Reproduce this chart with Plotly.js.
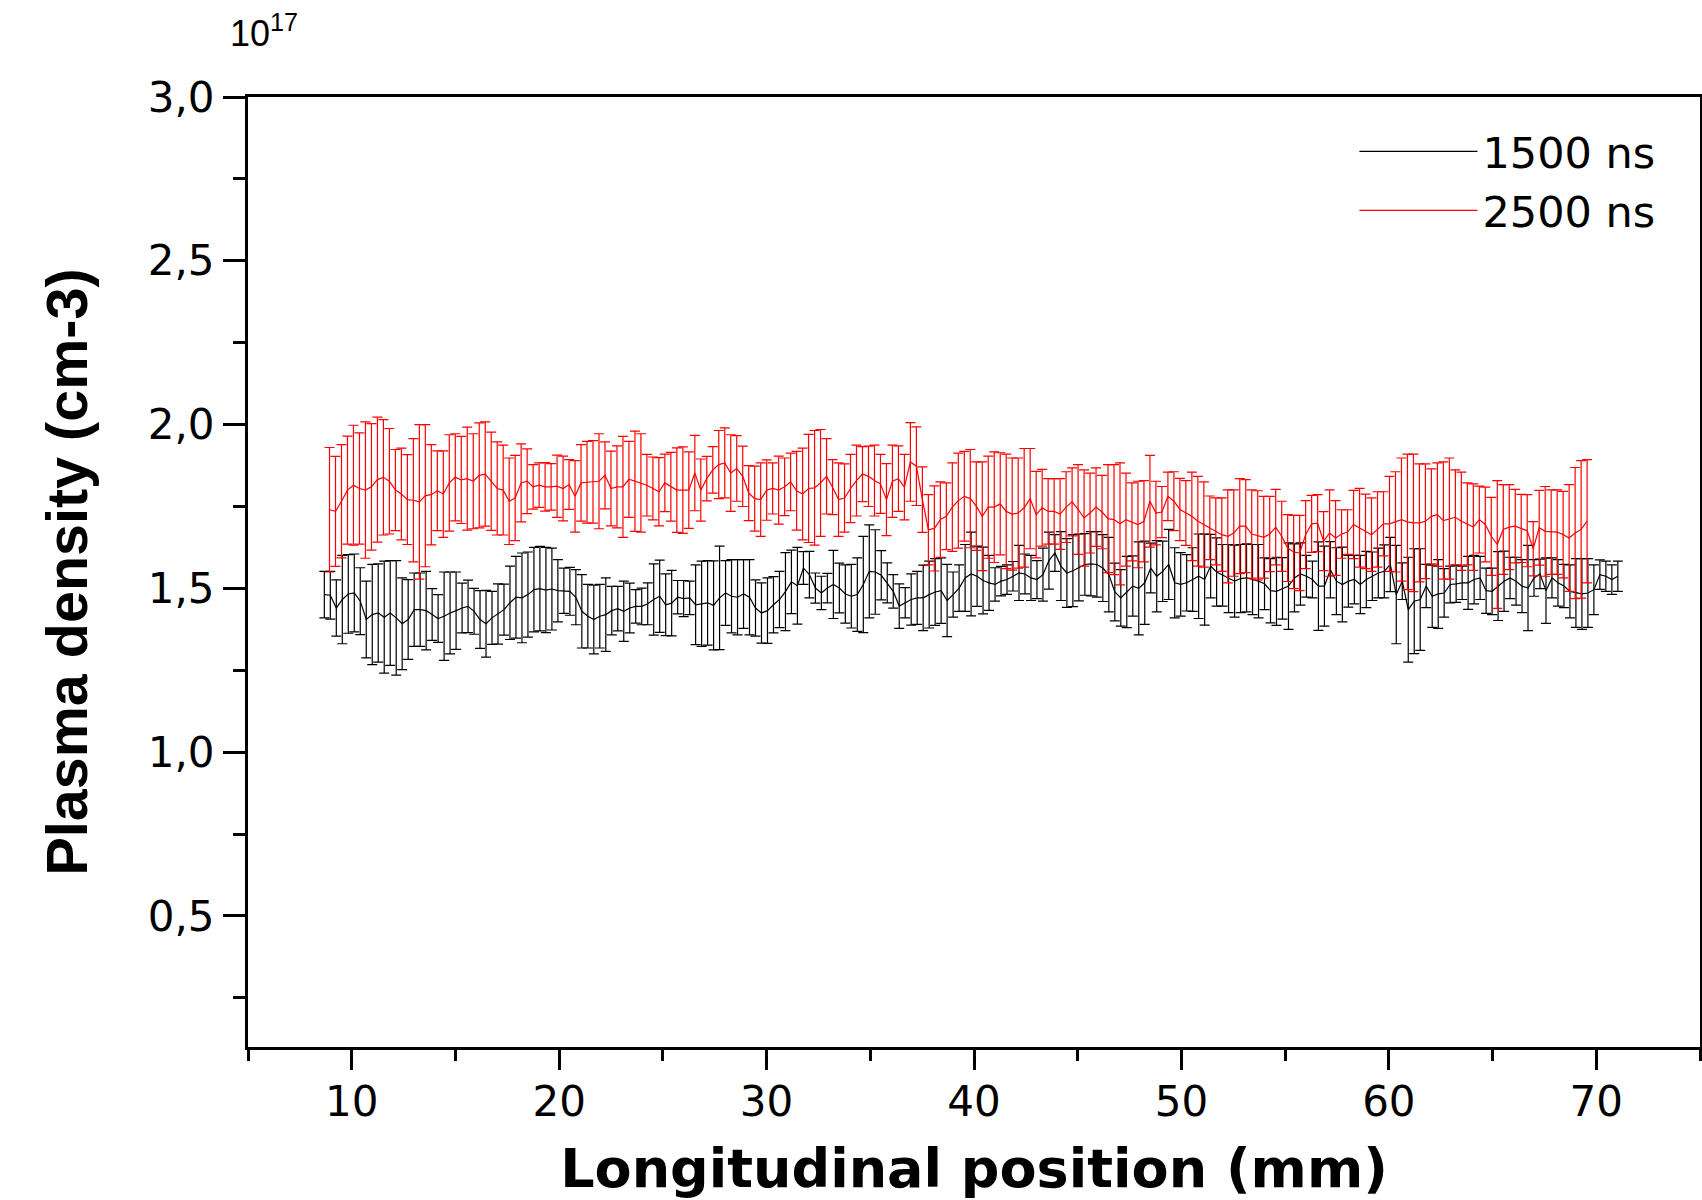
<!DOCTYPE html>
<html>
<head>
<meta charset="utf-8">
<script src="https://cdn.plot.ly/plotly-3.0.1.min.js"></script>
<style>html,body{margin:0;padding:0;background:#fff;}#chart{width:1702px;height:1200px;}</style>
</head>
<body>
<div id="chart"></div>
<script>
// Series names
const seriesNames = ['1500 ns', '2500 ns'];

// Longitudinal sampling (mm): first position of each series and the sampling step
const BLACK_X0 = 8.68;
const RED_X0 = 8.93;
const STEP_MM = 0.2887;

// 1500 ns : plasma density (x 10^17 cm-3)
const black_y = [
1.481,1.479,1.44,1.466,1.483,1.486,1.461,1.405,1.42,1.425,
1.412,1.425,1.41,1.392,1.405,1.435,1.435,1.432,1.42,1.408,
1.415,1.425,1.432,1.44,1.445,1.43,1.405,1.392,1.41,1.422,
1.435,1.456,1.473,1.471,1.481,1.496,1.499,1.495,1.498,1.493,
1.493,1.491,1.473,1.43,1.415,1.405,1.415,1.42,1.432,1.438,
1.43,1.44,1.445,1.445,1.453,1.466,1.476,1.45,1.455,1.473,
1.469,1.471,1.45,1.453,1.456,1.448,1.471,1.486,1.476,1.473,
1.483,1.473,1.44,1.425,1.432,1.45,1.466,1.49,1.52,1.508,
1.562,1.542,1.501,1.486,1.501,1.512,1.501,1.483,1.476,1.481,
1.512,1.552,1.55,1.54,1.517,1.491,1.446,1.456,1.466,1.471,
1.471,1.481,1.489,1.493,1.463,1.481,1.501,1.532,1.544,1.537,
1.524,1.517,1.512,1.522,1.527,1.537,1.547,1.544,1.532,1.527,
1.542,1.585,1.608,1.568,1.547,1.554,1.564,1.573,1.575,1.573,
1.562,1.542,1.489,1.471,1.489,1.507,1.5,1.517,1.562,1.537,
1.552,1.573,1.517,1.512,1.517,1.527,1.537,1.527,1.568,1.55,
1.54,1.53,1.522,1.53,
1.532,1.527,1.522,1.514,1.493,1.491,1.5,1.507,1.532,1.544,
1.537,1.527,1.507,1.507,1.557,1.522,1.512,1.522,1.527,1.512,
1.527,1.537,1.547,1.552,1.573,1.481,1.522,1.435,1.461,1.466,
1.507,1.476,1.483,1.486,1.512,1.514,1.517,1.517,1.527,1.532,
1.493,1.491,1.507,1.522,1.532,1.522,1.507,1.501,1.532,1.544,
1.493,1.532,1.517,1.507,1.491,1.486,1.483,1.486,1.496,1.542,
1.537,1.527,1.537
];
// 1500 ns : error bars (x 10^17 cm-3)
const black_err = [
0.071,0.073,0.086,0.135,0.12,0.119,0.102,0.117,0.153,0.15,
0.171,0.16,0.175,0.14,0.122,0.112,0.112,0.12,0.079,0.073,
0.135,0.125,0.118,0.076,0.08,0.07,0.088,0.102,0.081,0.092,
0.078,0.112,0.125,0.137,0.13,0.129,0.129,0.13,0.125,0.095,
0.069,0.073,0.084,0.112,0.097,0.105,0.097,0.112,0.074,0.068,
0.092,0.076,0.051,0.056,0.064,0.109,0.11,0.094,0.1,0.051,
0.055,0.051,0.122,0.13,0.129,0.136,0.158,0.099,0.112,0.115,
0.105,0.115,0.086,0.092,0.1,0.086,0.086,0.119,0.097,0.117,
0.05,0.071,0.046,0.051,0.045,0.104,0.076,0.089,0.097,0.112,
0.147,0.142,0.129,0.075,0.061,0.051,0.068,0.046,0.078,0.081,
0.1,0.102,0.102,0.1,0.11,0.069,0.071,0.102,0.128,0.092,
0.102,0.084,0.051,0.045,0.045,0.045,0.084,0.061,0.069,0.058,
0.081,0.087,0.056,0.105,0.105,0.11,0.102,0.094,0.098,0.1,
0.102,0.114,0.088,0.086,0.109,0.092,0.142,0.127,0.076,0.109,
0.092,0.107,0.107,0.097,0.086,0.097,0.129,0.139,0.097,0.104,
0.094,0.104,0.11,0.104,
0.104,0.107,0.112,0.079,0.098,0.104,0.094,0.132,0.104,0.095,
0.064,0.056,0.135,0.122,0.086,0.102,0.114,0.079,0.074,0.089,
0.086,0.074,0.076,0.081,0.083,0.15,0.056,0.16,0.16,0.155,
0.066,0.095,0.105,0.074,0.056,0.057,0.051,0.081,0.074,0.066,
0.069,0.071,0.105,0.092,0.063,0.073,0.081,0.13,0.056,0.045,
0.1,0.061,0.071,0.066,0.081,0.105,0.108,0.105,0.076,0.045,
0.046,0.045,0.046
];

// 2500 ns : plasma density (x 10^17 cm-3)
const red_y = [
1.74,1.735,1.766,1.80,1.815,1.805,1.80,1.81,1.832,1.839,
1.827,1.80,1.788,1.771,1.769,1.764,1.783,1.786,1.798,1.788,
1.822,1.839,1.831,1.835,1.827,1.845,1.849,1.827,1.805,1.80,
1.766,1.776,1.822,1.827,1.81,1.815,1.81,1.81,1.812,1.805,
1.817,1.781,1.822,1.824,1.825,1.827,1.845,1.805,1.81,1.81,
1.833,1.827,1.822,1.815,1.805,1.795,1.822,1.81,1.80,1.80,
1.80,1.852,1.80,1.835,1.862,1.878,1.883,1.852,1.866,1.842,
1.791,1.774,1.771,1.80,1.805,1.80,1.81,1.825,
1.798,1.788,1.805,1.807,1.822,1.842,1.809,1.771,1.776,1.805,
1.829,1.849,1.842,1.829,1.819,1.771,1.827,1.835,1.809,1.886,
1.873,1.771,1.679,1.683,1.71,1.72,1.748,1.768,1.781,1.774,
1.751,1.72,1.748,1.748,1.758,1.735,1.727,1.73,1.746,1.774,
1.725,1.746,1.735,1.735,1.727,1.748,1.764,1.741,1.715,1.73,
1.748,1.733,1.713,1.71,1.697,1.71,1.703,1.695,1.705,1.766,
1.73,1.733,1.781,1.766,1.741,1.73,1.72,1.705,1.695,1.685,
1.674,1.664,1.659,1.669,1.69,
1.69,1.666,1.662,1.656,1.666,1.687,1.659,1.623,1.611,1.608,
1.664,1.697,1.699,1.644,1.669,1.654,1.666,1.672,1.695,1.685,
1.674,1.664,1.68,1.697,1.697,1.703,1.71,1.703,1.70,1.70,
1.705,1.72,1.725,1.707,1.713,1.717,1.705,1.697,1.687,1.71,
1.695,1.659,1.634,1.68,1.687,1.69,1.683,1.676,1.621,1.685,
1.674,1.672,1.672,1.664,1.654,1.669,1.68,1.705
];
// 2500 ns : error bars (x 10^17 cm-3)
const red_err = [
0.19,0.168,0.173,0.165,0.183,0.17,0.208,0.193,0.191,0.176,
0.161,0.124,0.14,0.137,0.188,0.236,0.217,0.153,0.122,0.132,
0.147,0.133,0.133,0.157,0.145,0.16,0.159,0.15,0.142,0.137,
0.132,0.13,0.119,0.099,0.068,0.068,0.074,0.071,0.095,0.099,
0.076,0.109,0.117,0.125,0.126,0.145,0.102,0.114,0.125,0.154,
0.116,0.153,0.15,0.094,0.096,0.104,0.088,0.105,0.129,0.132,
0.117,0.115,0.095,0.068,0.071,0.104,0.107,0.117,0.10,0.092,
0.084,0.099,0.112,0.092,0.078,0.104,0.088,0.088,
0.12,0.14,0.165,0.175,0.163,0.115,0.084,0.112,0.104,0.104,
0.108,0.084,0.092,0.108,0.09,0.11,0.11,0.10,0.10,0.12,
0.12,0.10,0.107,0.13,0.115,0.102,0.135,0.145,0.137,0.15,
0.135,0.166,0.156,0.169,0.156,0.175,0.171,0.168,0.181,0.153,
0.132,0.117,0.10,0.10,0.108,0.108,0.104,0.137,0.147,0.122,
0.12,0.112,0.165,0.168,0.186,0.142,0.119,0.132,0.124,0.14,
0.097,0.078,0.074,0.09,0.095,0.099,0.135,0.137,0.13,0.097,
0.102,0.112,0.142,0.132,0.145,
0.142,0.135,0.136,0.125,0.115,0.115,0.107,0.102,0.112,0.115,
0.104,0.087,0.087,0.09,0.132,0.114,0.074,0.068,0.104,0.12,
0.114,0.112,0.115,0.098,0.145,0.153,0.188,0.207,0.21,0.18,
0.175,0.145,0.158,0.179,0.185,0.145,0.15,0.125,0.132,0.102,
0.114,0.119,0.195,0.137,0.13,0.112,0.104,0.11,0.083,0.114,
0.137,0.129,0.129,0.132,0.163,0.20,0.21,0.188
];

// Axis ticks
const xTickValues = [10, 20, 30, 40, 50, 60, 70];
const yTickValues = [0.5, 1.0, 1.5, 2.0, 2.5, 3.0];

const traces = [
  {
    type: 'scatter', mode: 'lines', name: seriesNames[0],
    x0: BLACK_X0, dx: STEP_MM, y: black_y,
    line: {color: '#000000', width: 1.2},
    error_y: {type: 'data', array: black_err, visible: true, color: '#000000', thickness: 1.2, width: 5}
  },
  {
    type: 'scatter', mode: 'lines', name: seriesNames[1],
    x0: RED_X0, dx: STEP_MM, y: red_y,
    line: {color: '#ff0000', width: 1.2},
    error_y: {type: 'data', array: red_err, visible: true, color: '#ff0000', thickness: 1.2, width: 5}
  }
];

const tickFont = {family: 'DejaVu Sans, Liberation Sans, Arial, sans-serif', size: 42, color: '#000'};

const layout = {
  width: 1702, height: 1200,
  margin: {l: 248, r: 2, t: 97, b: 153, pad: 0},
  paper_bgcolor: '#ffffff', plot_bgcolor: '#ffffff',
  separators: ',.',
  showlegend: true,
  legend: {
    x: 0.762, y: 0.979, xanchor: 'left', yanchor: 'top',
    font: {family: 'DejaVu Sans, Liberation Sans, sans-serif', size: 43, color: '#000'},
    bgcolor: 'rgba(0,0,0,0)', borderwidth: 0, itemwidth: 118, tracegroupgap: 0
  },
  xaxis: {
    range: [5, 75], tickmode: 'array', tickvals: xTickValues,
    ticks: 'outside', ticklen: 20, tickwidth: 3, tickcolor: '#000',
    showline: true, linewidth: 3, linecolor: '#000', mirror: true,
    showgrid: false, zeroline: false, automargin: false,
    tickfont: tickFont, ticklabelstandoff: -4,
    minor: {tickmode: 'linear', tick0: 5, dtick: 10, ticks: 'outside', ticklen: 11, tickwidth: 3, tickcolor: '#000', showgrid: false},
    title: {text: 'Longitudinal position (mm)', standoff: 24,
      font: {family: 'DejaVu Sans, Liberation Sans, sans-serif', size: 54, color: '#000', weight: 'bold'}}
  },
  yaxis: {
    range: [0.1, 3.0], tickmode: 'array', tickvals: yTickValues, tickformat: '.1f',
    ticks: 'outside', ticklen: 22, tickwidth: 3, tickcolor: '#000',
    showline: true, linewidth: 3, linecolor: '#000', mirror: true,
    showgrid: false, zeroline: false, automargin: false,
    tickfont: tickFont,
    minor: {tickmode: 'linear', tick0: 0.25, dtick: 0.5, ticks: 'outside', ticklen: 12, tickwidth: 3, tickcolor: '#000', showgrid: false},
    title: {text: 'Plasma density (cm-3)', standoff: 42,
      font: {family: 'Liberation Sans, Arial, sans-serif', size: 57.5, color: '#000', weight: 'bold'}}
  },
  annotations: [{
    xref: 'paper', yref: 'paper', x: -0.0135, y: 1.069, xanchor: 'left', yanchor: 'middle',
    text: '10<sup>17</sup>', showarrow: false,
    font: {family: 'Liberation Sans, Arial, sans-serif', size: 36, color: '#000'}
  }]
};

Plotly.newPlot('chart', traces, layout, {displayModeBar: false, staticPlot: true});
</script>
</body>
</html>
